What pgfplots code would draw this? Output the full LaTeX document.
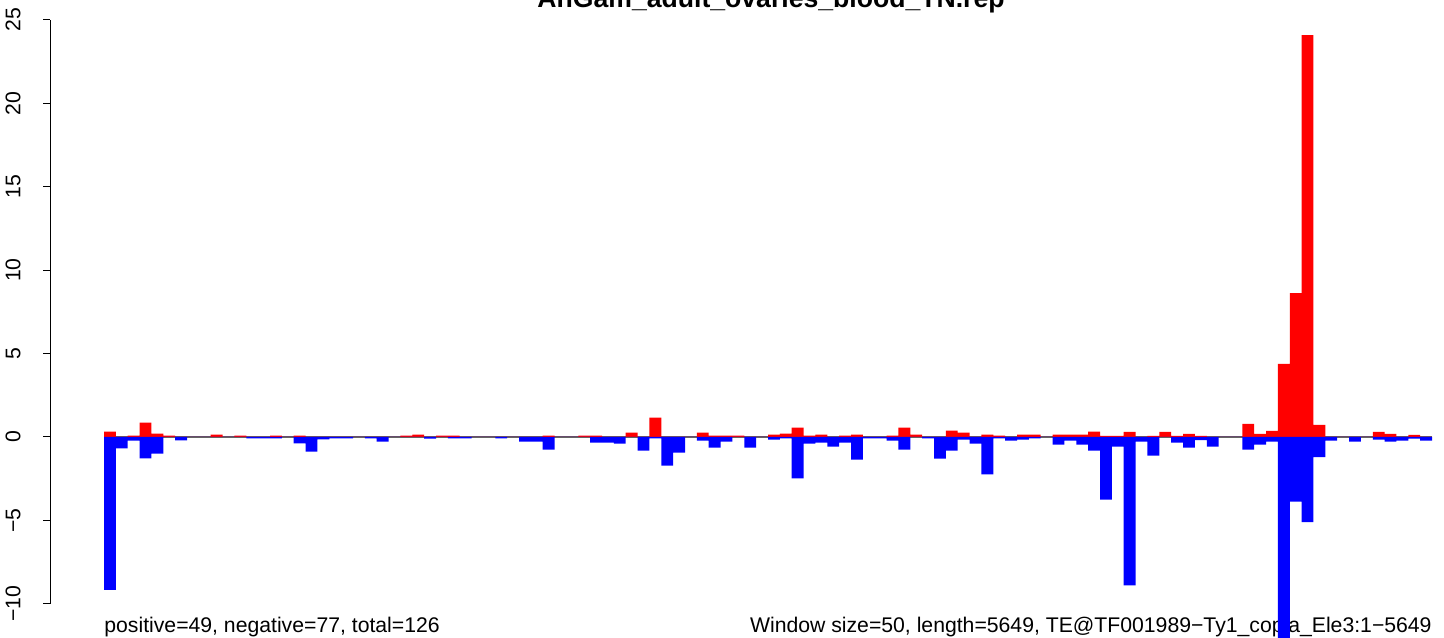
\documentclass[border=0pt]{standalone}
\usepackage{pgfplots}
\usepackage{pgfplotstable}
\pgfplotsset{compat=1.18}
\usepackage{fontspec}
\setmainfont{Liberation Sans}
\definecolor{rred}{RGB}{255,0,0}
\definecolor{rblue}{RGB}{0,0,255}
\definecolor{zline}{RGB}{100,100,100}

\pgfplotstableread{
i pos neg
0 0.32 -9.17
1 0 -0.68
2 0.08 -0.21
3 0.86 -1.28
4 0.20 -1.00
5 0.08 0
6 0 -0.20
7 0 0
8 0 0
9 0.14 0
10 0 0
11 0.08 0
12 0 -0.08
13 0 -0.08
14 0.08 -0.08
15 0 0
16 0.08 -0.38
17 0 -0.88
18 0 -0.14
19 0 -0.08
20 0 -0.08
21 0 0
22 0 -0.08
23 0 -0.28
24 0 0
25 0.08 0
26 0.14 0
27 0 -0.10
28 0.08 0
29 0.08 -0.08
30 0 -0.08
31 0 0
32 0 0
33 0 -0.08
34 0 0
35 0 -0.27
36 0 -0.27
37 0.08 -0.75
38 0 0
39 0 0
40 0.08 0
41 0.08 -0.33
42 0 -0.33
43 0 -0.39
44 0.26 0
45 0 -0.81
46 1.16 -0.09
47 0 -1.71
48 0 -0.93
49 0 0
50 0.26 -0.21
51 0.08 -0.63
52 0.08 -0.27
53 0.08 0
54 0 -0.63
55 0 0
56 0.14 -0.15
57 0.20 -0.09
58 0.56 -2.48
59 0.08 -0.39
60 0.14 -0.33
61 0 -0.58
62 0.08 -0.33
63 0.14 -1.36
64 0 -0.09
65 0 -0.09
66 0.08 -0.21
67 0.56 -0.75
68 0.14 0
69 0 -0.09
70 0 -1.29
71 0.38 -0.81
72 0.26 -0.15
73 0 -0.39
74 0.14 -2.24
75 0.08 -0.09
76 0 -0.21
77 0.14 -0.15
78 0.14 -0.08
79 0 0
80 0.14 -0.45
81 0.14 -0.21
82 0.14 -0.45
83 0.32 -0.81
84 0.07 -3.76
85 0.07 -0.57
86 0.31 -8.90
87 0 -0.27
88 0.07 -1.12
89 0.31 0
90 0.07 -0.33
91 0.19 -0.63
92 0.07 -0.18
93 0 -0.57
94 0 0
95 0 0
96 0.79 -0.75
97 0.19 -0.45
98 0.37 -0.27
99 4.38 -12.5
100 8.63 -3.88
101 24.10 -5.10
102 0.72 -1.20
103 0 -0.22
104 0 0
105 0 -0.28
106 0 0
107 0.30 -0.16
108 0.18 -0.28
109 0 -0.22
110 0.12 -0.10
111 0 -0.22
}\bars

\begin{document}
\begin{tikzpicture}
\path[use as bounding box] (0,0) rectangle (722pt,318.5pt);
% texts (drawn below the bars)
\node[anchor=base, inner sep=0pt, font=\bfseries\fontsize{13.3}{15}\selectfont]
  at (385.5pt,314.5pt) {AnGam\_adult\_ovaries\_blood\_TN.rep};
\node[anchor=base west, inner sep=0pt, font=\fontsize{10.6}{12}\selectfont]
  at (52pt,2.5pt) {positive=49, negative=77, total=126};
\node[anchor=base east, inner sep=0pt, font=\fontsize{10.6}{12}\selectfont]
  at (716pt,2.5pt) {Window size=50, length=5649, TE@TF001989−Ty1\_copia\_Ele3:1−5649};
\begin{axis}[
  at={(25pt,16.6pt)}, anchor=south west,
  scale only axis, width=697pt, height=291.9pt,
  xmin=-4.554, xmax=113.01, ymin=-10, ymax=25,
  clip=false,
  axis lines=left,
  axis line style={-, black, line width=0.5pt},
  x axis line style={draw=none},
  xtick=\empty,
  ytick={-10,-5,0,5,10,15,20,25},
  yticklabels={−10,−5,0,5,10,15,20,25},
  tick align=outside,
  major tick length=3.5pt,
  tick style={black, line width=0.5pt},
  yticklabel shift=11pt,
  yticklabel style={rotate=90, anchor=south, inner sep=0pt, font=\fontsize{10.6}{12}\selectfont},
]
\addplot[zline, line width=0.6pt] coordinates {(0,0) (112,0)};
\addplot[ybar, bar width=1, bar shift=0pt, draw=none, fill=rred]
  table[x expr=\thisrow{i}+0.5, y=pos] {\bars};
\addplot[ybar, bar width=1, bar shift=0pt, draw=none, fill=rblue]
  table[x expr=\thisrow{i}+0.5, y=neg] {\bars};
\end{axis}
\end{tikzpicture}
\end{document}
